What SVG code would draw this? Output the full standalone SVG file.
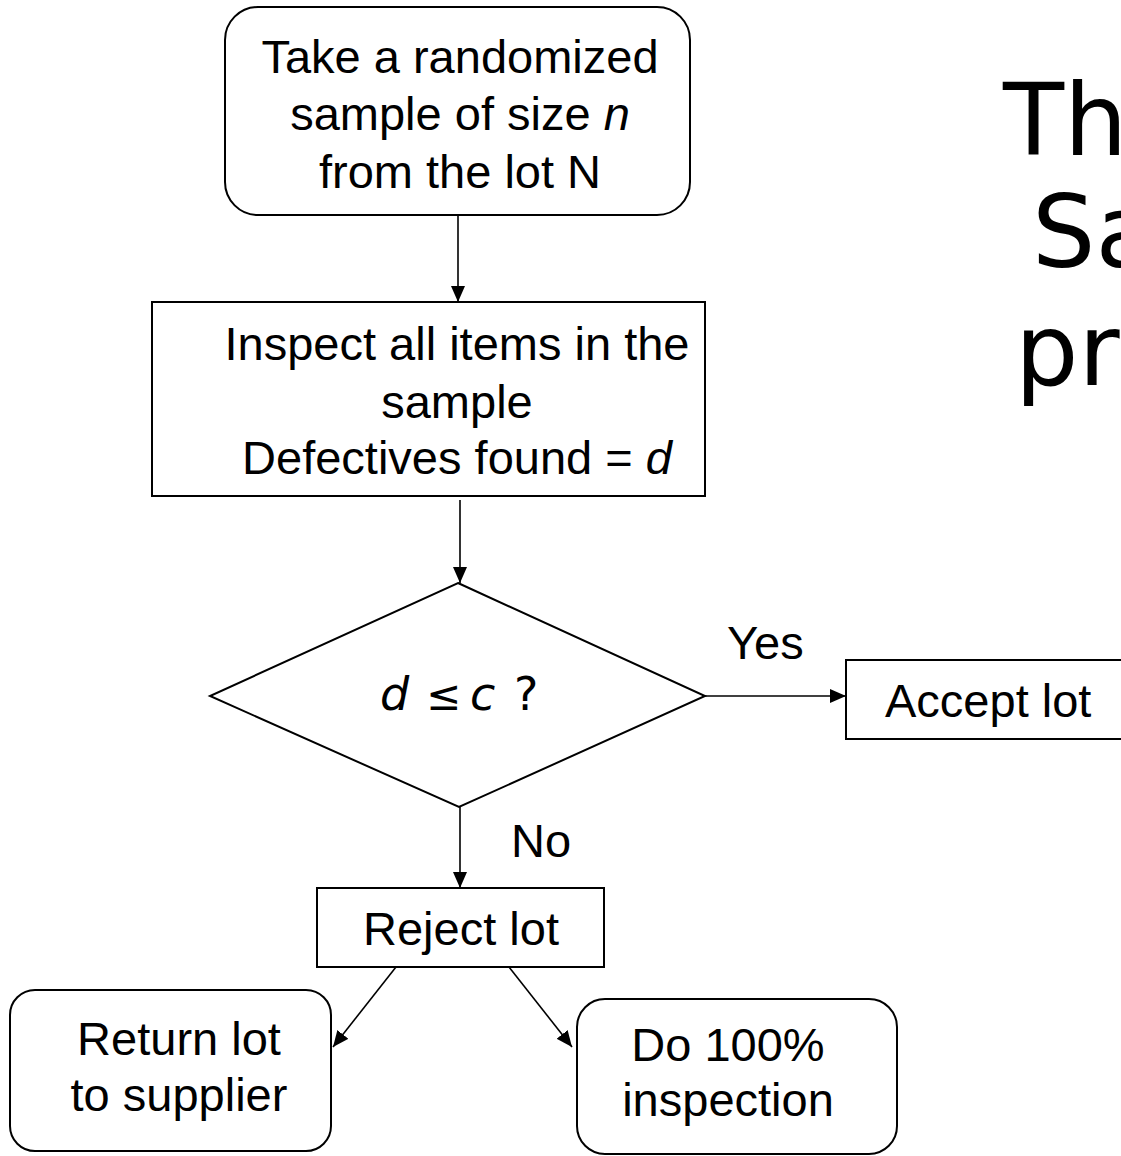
<svg xmlns="http://www.w3.org/2000/svg" width="1121" height="1156" viewBox="0 0 1121 1156">
<style>
.box{fill:#fff;stroke:#000;stroke-width:2}
.t{font-family:"Liberation Sans",Arial,sans-serif;font-size:47px;fill:#000;text-anchor:middle}
.ts{font-family:"Liberation Sans",Arial,sans-serif;font-size:47px;fill:#000}
.title{font-family:"DejaVu Sans",Verdana,sans-serif;font-size:100px;fill:#000}
.dj{font-family:"DejaVu Sans",Verdana,sans-serif;font-size:46px;fill:#000}
.c{fill:none;stroke:#000;stroke-width:1.6}
</style>
<defs>
<marker id="arr" markerUnits="userSpaceOnUse" markerWidth="17" markerHeight="15" refX="16" refY="7" orient="auto">
<path d="M0,0 L16,7 L0,14 z" fill="#000"/>
</marker>
</defs>
<g id="title">
<text class="title" x="1003" y="155">Th</text>
<text class="title" x="1032" y="267">Sa</text>
<text class="title" x="1015" y="385">pr</text>
</g>
<g id="connectors">
<line class="c" x1="458" y1="215" x2="458" y2="302" marker-end="url(#arr)"/>
<line class="c" x1="460" y1="500" x2="460" y2="583" marker-end="url(#arr)"/>
<line class="c" x1="705" y1="696" x2="846" y2="696" marker-end="url(#arr)"/>
<line class="c" x1="460" y1="807" x2="460" y2="888" marker-end="url(#arr)"/>
<line class="c" x1="396" y1="967" x2="333" y2="1047" marker-end="url(#arr)"/>
<line class="c" x1="509" y1="967" x2="572" y2="1047" marker-end="url(#arr)"/>
<text class="ts" x="727" y="659">Yes</text>
<text class="ts" x="511" y="857">No</text>
</g>
<g id="n1">
<rect class="box" x="225" y="7" width="465" height="208" rx="33"/>
<text class="t" x="460" y="73">Take a randomized</text>
<text class="t" x="460" y="130">sample of size <tspan font-style="italic">n</tspan></text>
<text class="t" x="460" y="188">from the lot N</text>
</g>
<g id="n2">
<rect class="box" x="152" y="302" width="553" height="194"/>
<text class="t" x="457" y="360">Inspect all items in the</text>
<text class="t" x="457" y="418">sample</text>
<text class="t" x="457" y="474">Defectives found = <tspan font-style="italic">d</tspan></text>
</g>
<g id="n3">
<polygon class="box" points="458,583 705,696 459,807 210,696"/>
<text class="dj" y="710"><tspan x="380" font-style="italic">d</tspan><tspan x="426" font-size="42">≤</tspan><tspan x="470" font-style="italic">c</tspan><tspan x="514">?</tspan></text>
</g>
<g id="n4">
<rect class="box" x="846" y="660" width="280" height="79"/>
<text class="ts" x="885" y="717">Accept lot</text>
</g>
<g id="n5">
<rect class="box" x="317" y="888" width="287" height="79"/>
<text class="t" x="461" y="945">Reject lot</text>
</g>
<g id="n6">
<rect class="box" x="10" y="990" width="321" height="161" rx="25"/>
<text class="t" x="179" y="1055">Return lot</text>
<text class="t" x="179" y="1111">to supplier</text>
</g>
<g id="n7">
<rect class="box" x="577" y="999" width="320" height="155" rx="28"/>
<text class="t" x="728" y="1061">Do 100%</text>
<text class="t" x="728" y="1116">inspection</text>
</g>
</svg>
